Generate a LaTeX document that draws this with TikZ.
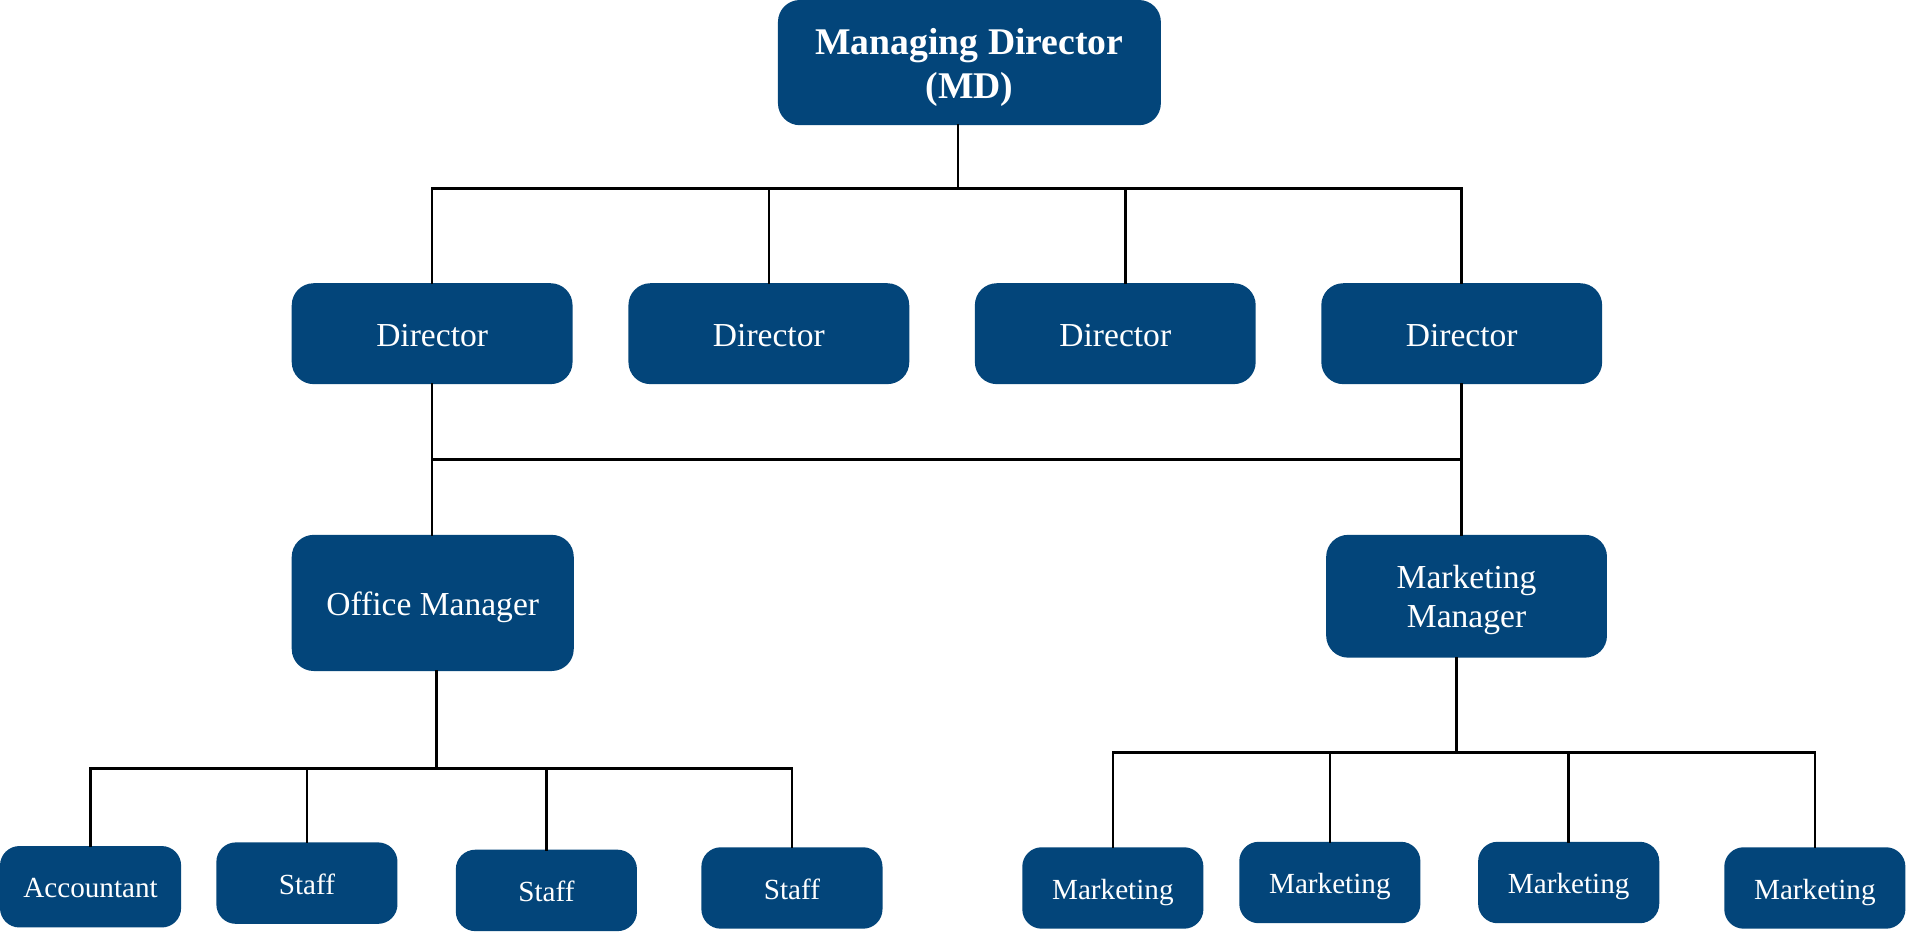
\documentclass[tikz,border=0pt]{standalone}
\usepackage{fontspec}
\setmainfont{Liberation Serif}
\usetikzlibrary{positioning}
\definecolor{chartblue}{RGB}{3,69,122}

\begin{document}
\begin{tikzpicture}[x=0.5pt,y=-0.5pt]
        \useasboundingbox (0,0) rectangle (1568,767);
        \begin{scope}[every node/.style={rectangle,rounded corners=9pt,fill=chartblue,text=white,align=center,inner sep=0pt,
            minimum width=115.5pt,minimum height=41.5pt,text height=10.6pt,text depth=0pt,font=\fontsize{13.8}{16.2}\selectfont}]
            \node[minimum width=157.5pt,minimum height=51.5pt,text height=29.8pt,text depth=0pt,
                font=\bfseries\fontsize{15.5}{18.4}\selectfont] (1) at (797.5,51.5) {Managing Director\\(MD)};
            \node (2) at (355.5,274.5) {Director};
            \node (3) at (632.5,274.5) {Director};
            \node (4) at (917.5,274.5) {Director};
            \node (5) at (1202.5,274.5) {Director};
            \node[minimum width=116pt,minimum height=56pt] (6) at (356,496) {Office Manager};
            \node[minimum height=50.5pt,text height=25.9pt,text depth=0pt] (7) at (1206.5,490.5) {Marketing\\Manager};
        \end{scope}
        \begin{scope}[every node/.style={rectangle,rounded corners=8pt,fill=chartblue,text=white,inner sep=0pt,
            minimum width=74.5pt,minimum height=33.5pt,text height=9.2pt,text depth=0pt,font=\fontsize{12}{14}\selectfont}]
            \node (8) at (74.5,729.5) {Accountant};
            \node (9) at (252.5,726.5) {Staff};
            \node (10) at (449.5,732.5) {Staff};
            \node (11) at (651.5,730.5) {Staff};
            \node (12) at (915.5,730.5) {Marketing};
            \node (13) at (1094,726) {Marketing};
            \node (14) at (1290.5,726) {Marketing};
            \node (15) at (1493,730.5) {Marketing};
        \end{scope}
        \coordinate (b1) at (788,155);
        \coordinate (b2) at (358,378);
        \coordinate (b3) at (359,632);
        \coordinate (b4) at (1198,619);
        \begin{scope}[every edge/.style={draw=black,line width=1.1pt,line cap=rect}]
            \path (1.south -| b1) edge (b1);
            \path (2.north |- b1) edge (5.north |- b1);
            \foreach \n in {2,3,5}
                \path (\n.north) edge (\n.north |- b1);
            \path ([xshift=4.25pt]4.north) edge ([xshift=4.25pt]4.north |- b1);
            \path (2.south) edge (2.south |- 6.north);
            \path (5.south) edge (5.south |- 7.north);
            \path (2.south |- b2) edge (5.south |- b2);
            \path (6.south -| b3) edge (b3);
            \path (8.north |- b3) edge (11.north |- b3);
            \foreach \n in {8,...,11}
                \path (\n.north) edge (\n.north |- b3);
            \path (7.south -| b4) edge (b4);
            \path (12.north |- b4) edge (15.north |- b4);
            \foreach \n in {12,...,15}
                \path (\n.north) edge (\n.north |- b4);
        \end{scope}
    \end{tikzpicture}
\end{document}
